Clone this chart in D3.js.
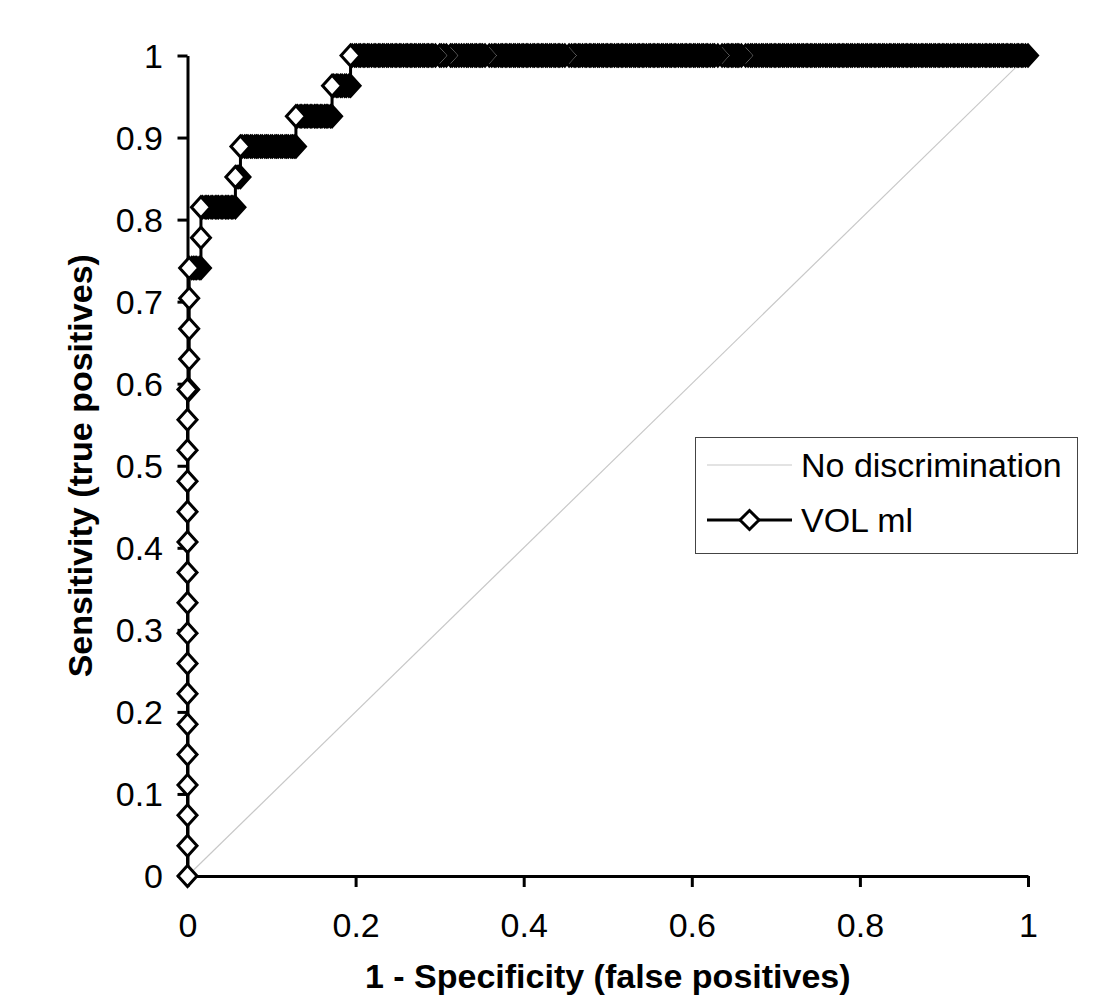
<!DOCTYPE html>
<html>
<head>
<meta charset="utf-8">
<script src="https://cdn.jsdelivr.net/npm/d3@7"></script>
<style>
  html, body { margin: 0; padding: 0; background: #fff; }
  svg { display: block; }
  text { font-family: "Liberation Sans", Arial, sans-serif; fill: #000; }
</style>
</head>
<body>
<svg id="chart" width="1094" height="1000"></svg>
<script>
// ---------------- data ----------------
const xTicks = [0, 0.2, 0.4, 0.6, 0.8, 1];
const xTickLabels = ["0", "0.2", "0.4", "0.6", "0.8", "1"];
const yTicks = [0, 0.1, 0.2, 0.3, 0.4, 0.5, 0.6, 0.7, 0.8, 0.9, 1];
const yTickLabels = ["0", "0.1", "0.2", "0.3", "0.4", "0.5", "0.6", "0.7", "0.8", "0.9", "1"];
const seriesNames = ["No discrimination", "VOL ml"];
const diagonalX = [0, 1];
const diagonalY = [0, 1];

// sensitivity levels (true positive rate) of the VOL ml ROC curve
const tprLevels = [0, 0.037, 0.074, 0.111, 0.148, 0.185, 0.222, 0.259, 0.296, 0.333,
  0.370, 0.407, 0.444, 0.481, 0.519, 0.556, 0.593, 0.630, 0.667, 0.704,
  0.741, 0.778, 0.815, 0.852, 0.889, 0.926, 0.963, 1.000];

// false positive rates of the curve's points at each sensitivity level
const fprRuns = [
  [0], [0], [0], [0], [0], [0], [0], [0], [0], [0],
  [0], [0], [0], [0], [0], [0], [0, 0.002], [0.002], [0.002], [0.002],
  [0.002, 0.005, 0.007, 0.009, 0.011, 0.014, 0.016],
  [0.016],
  [0.016, 0.018, 0.021, 0.023, 0.025, 0.028, 0.030, 0.033, 0.035, 0.037, 0.040, 0.042, 0.045, 0.047, 0.049, 0.052, 0.054, 0.057],
  [0.057, 0.059, 0.061, 0.063],
  [0.063, 0.065, 0.068, 0.070, 0.072, 0.075, 0.077, 0.080, 0.082, 0.084, 0.087, 0.089, 0.092, 0.094, 0.096, 0.099, 0.101, 0.104, 0.106, 0.108, 0.111, 0.113, 0.116, 0.118, 0.120, 0.123, 0.125, 0.127, 0.129],
  [0.129, 0.131, 0.134, 0.136, 0.139, 0.141, 0.143, 0.146, 0.148, 0.151, 0.153, 0.155, 0.158, 0.160, 0.163, 0.165, 0.167, 0.170, 0.172],
  [0.172, 0.174, 0.177, 0.179, 0.182, 0.184, 0.187, 0.189, 0.192, 0.194],
  [0.194, 0.196, 0.199, 0.201, 0.204, 0.206, 0.209, 0.211, 0.214, 0.216, 0.219, 0.222, 0.224, 0.227, 0.229, 0.232, 0.234, 0.237, 0.239, 0.242,
   0.244, 0.247, 0.249, 0.252, 0.254, 0.257, 0.260, 0.262, 0.265, 0.267, 0.270, 0.272, 0.275, 0.277, 0.280, 0.282, 0.285, 0.287, 0.290, 0.292,
   0.295, 0.300, 0.302, 0.305, 0.308, 0.313, 0.315, 0.318, 0.320, 0.323, 0.326, 0.329, 0.332, 0.334, 0.337, 0.339, 0.342, 0.344, 0.347, 0.349,
   0.351, 0.354, 0.359, 0.362, 0.365, 0.367, 0.370, 0.373, 0.375, 0.378, 0.380, 0.383, 0.385, 0.388, 0.390, 0.393, 0.395, 0.398, 0.400, 0.403,
   0.405, 0.408, 0.411, 0.413, 0.416, 0.418, 0.421, 0.423, 0.426, 0.428, 0.431, 0.433, 0.436, 0.438, 0.441, 0.443, 0.446, 0.449, 0.454, 0.457,
   0.460, 0.462, 0.465, 0.467, 0.470, 0.473, 0.475, 0.478, 0.480, 0.483, 0.485, 0.488, 0.490, 0.493, 0.495, 0.498, 0.500, 0.503, 0.505, 0.508,
   0.511, 0.513, 0.516, 0.518, 0.521, 0.523, 0.526, 0.528, 0.531, 0.533, 0.536, 0.538, 0.541, 0.543, 0.546, 0.549, 0.551, 0.554, 0.556, 0.559,
   0.561, 0.564, 0.566, 0.569, 0.571, 0.574, 0.576, 0.579, 0.581, 0.584, 0.587, 0.589, 0.592, 0.594, 0.597, 0.599, 0.602, 0.604, 0.607, 0.609,
   0.612, 0.614, 0.617, 0.619, 0.622, 0.625, 0.627, 0.631, 0.636, 0.639, 0.642, 0.644, 0.647, 0.649, 0.652, 0.654, 0.656, 0.659, 0.664, 0.667,
   0.670, 0.672, 0.675, 0.677, 0.680, 0.683, 0.685, 0.688, 0.690, 0.693, 0.695, 0.698, 0.700, 0.703, 0.705, 0.708, 0.710, 0.713, 0.715, 0.718,
   0.721, 0.723, 0.726, 0.728, 0.731, 0.733, 0.736, 0.738, 0.741, 0.743, 0.746, 0.748, 0.751, 0.753, 0.756, 0.759, 0.761, 0.764, 0.766, 0.769,
   0.771, 0.774, 0.776, 0.779, 0.781, 0.784, 0.786, 0.789, 0.791, 0.794, 0.797, 0.799, 0.802, 0.804, 0.807, 0.809, 0.812, 0.814, 0.817, 0.819,
   0.822, 0.824, 0.827, 0.829, 0.832, 0.835, 0.837, 0.840, 0.842, 0.845, 0.847, 0.850, 0.852, 0.855, 0.857, 0.860, 0.862, 0.865, 0.867, 0.870,
   0.873, 0.875, 0.878, 0.880, 0.883, 0.885, 0.888, 0.890, 0.893, 0.895, 0.898, 0.900, 0.903, 0.905, 0.908, 0.911, 0.913, 0.916, 0.918, 0.921,
   0.923, 0.926, 0.928, 0.931, 0.933, 0.936, 0.938, 0.941, 0.943, 0.946, 0.949, 0.951, 0.954, 0.956, 0.959, 0.961, 0.964, 0.966, 0.969, 0.971,
   0.974, 0.976, 0.979, 0.981, 0.984, 0.987, 0.989, 0.992, 0.994, 0.997, 1.000]
];

const xTitle = "1 - Specificity (false positives)";
const yTitle = "Sensitivity (true positives)";

// ---------------- drawing ----------------
const svg = d3.select("#chart");
const FS = 34;
const x = d3.scaleLinear().domain([0, 1]).range([187.5, 1028]);
const y = d3.scaleLinear().domain([0, 1]).range([876, 55.5]);

// axes
const yAxis = d3.axisLeft(y).tickValues(yTicks).tickSize(10).tickSizeOuter(0)
  .tickFormat((d, i) => yTickLabels[i]);
const xAxis = d3.axisBottom(x).tickValues(xTicks).tickSize(11).tickSizeOuter(0)
  .tickFormat((d, i) => xTickLabels[i]);

const gy = svg.append("g").attr("transform", `translate(${x(0)},0)`).call(yAxis);
const gx = svg.append("g").attr("transform", `translate(0,${y(0)})`).call(xAxis);
[gx, gy].forEach(g => {
  g.select(".domain").attr("stroke", "#000").attr("stroke-width", 3);
  g.selectAll(".tick line").attr("stroke", "#000").attr("stroke-width", 3);
  g.selectAll(".tick text").attr("font-size", FS)
    .attr("font-family", '"Liberation Sans", Arial, sans-serif').attr("fill", "#000");
});
gy.selectAll(".tick text").attr("x", -24.5).attr("dy", null).attr("y", 11.5);
gx.selectAll(".tick text").attr("y", 61).attr("dy", null);

// axis titles
svg.append("text").attr("x", (x(0) + x(1)) / 2).attr("y", 988)
  .attr("text-anchor", "middle").attr("font-size", FS).attr("font-weight", "bold").text(xTitle);
svg.append("text").attr("transform", `translate(92,${(y(0) + y(1)) / 2}) rotate(-90)`)
  .attr("text-anchor", "middle").attr("font-size", FS).attr("font-weight", "bold").text(yTitle);

// no discrimination diagonal
const diag = diagonalX.map((v, i) => ({ x: v, y: diagonalY[i] }));
const line = d3.line().x(d => x(d.x)).y(d => y(d.y));
svg.append("path").datum(diag).attr("d", line)
  .attr("fill", "none").attr("stroke", "#c8c8c8").attr("stroke-width", 1.2);

// ROC series
const points = [];
tprLevels.forEach((t, i) => fprRuns[i].forEach(f => points.push({ x: f, y: t })));

svg.append("path").datum(points).attr("d", line)
  .attr("fill", "none").attr("stroke", "#000").attr("stroke-width", 3)
  .attr("stroke-linejoin", "miter");

const diamond = (a, b) => `M0,${-b}L${a},0L0,${b}L${-a},0Z`;
svg.append("g").selectAll("path")
  .data(points.slice().reverse())
  .join("path")
  .attr("transform", d => `translate(${x(d.x)},${y(d.y)})`)
  .attr("d", diamond(9.5, 10.5))
  .attr("fill", "#fff").attr("stroke", "#000").attr("stroke-width", 3)
  .attr("stroke-linejoin", "miter");

// legend
const lg = svg.append("g");
lg.append("rect").attr("x", 695.5).attr("y", 437.5).attr("width", 382).attr("height", 116)
  .attr("fill", "#fff").attr("stroke", "#444").attr("stroke-width", 1);
lg.append("line").attr("x1", 707).attr("x2", 792).attr("y1", 465).attr("y2", 465)
  .attr("stroke", "#c8c8c8").attr("stroke-width", 1.2);
lg.append("text").attr("x", 801).attr("y", 477).attr("font-size", FS).text(seriesNames[0]);
lg.append("line").attr("x1", 707).attr("x2", 792).attr("y1", 520).attr("y2", 520)
  .attr("stroke", "#000").attr("stroke-width", 3);
lg.append("path").attr("transform", "translate(749.5,520)").attr("d", diamond(9.5, 9.5))
  .attr("fill", "#fff").attr("stroke", "#000").attr("stroke-width", 3);
lg.append("text").attr("x", 801).attr("y", 532).attr("font-size", FS).text(seriesNames[1]);
</script>
</body>
</html>
